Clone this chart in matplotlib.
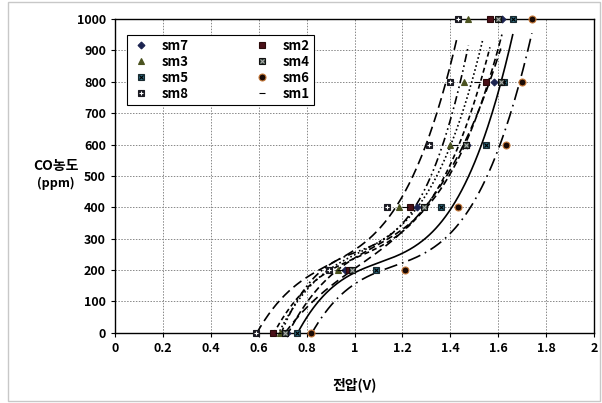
import numpy as np
import matplotlib
matplotlib.use('Agg')
import matplotlib.pyplot as plt
from matplotlib.patches import Rectangle

plt.rcParams['font.family'] = ['Noto Sans CJK KR', 'DejaVu Sans']

# CO concentration levels (ppm) and measured voltage (V) per sensor
ppm = [0, 200, 400, 600, 800, 1000]
sm7 = [0.72, 0.96, 1.26, 1.47, 1.58, 1.615]
sm2 = [0.66, 0.975, 1.23, 1.465, 1.55, 1.565]
sm3 = [0.69, 0.93, 1.185, 1.40, 1.455, 1.475]
sm4 = [0.71, 0.99, 1.29, 1.465, 1.61, 1.60]
sm5 = [0.76, 1.09, 1.36, 1.55, 1.625, 1.66]
sm6 = [0.82, 1.21, 1.43, 1.63, 1.70, 1.74]
sm8 = [0.59, 0.895, 1.135, 1.31, 1.40, 1.43]
sm1 = [0.68, 0.94, 1.21, 1.42, 1.51, 1.535]

x_ticks = [0, 0.2, 0.4, 0.6, 0.8, 1, 1.2, 1.4, 1.6, 1.8, 2]
y_ticks = [0, 100, 200, 300, 400, 500, 600, 700, 800, 900, 1000]

fig = plt.figure(figsize=(6.02, 4.03), dpi=100)
ax = fig.add_axes([0.191, 0.174, 0.796, 0.779])

# (name, data, marker, face, edge, size, overlay marker, trend line style)
series = [
    ('sm7', sm7, 'D', '#1c2450', '#1c2450', 3.5, None, (0, (4, 2))),
    ('sm3', sm3, '^', '#4b5320', '#4b5320', 4.5, None, (0, (5, 2, 1, 2, 1, 2))),
    ('sm5', sm5, 's', '#2e6b80', '#1a2a30', 5, ('x', 'black'), '-'),
    ('sm8', sm8, 's', '#1a1a22', '#1a1a22', 5, ('+', 'white'), (0, (6, 3))),
    ('sm2', sm2, 's', '#4a1018', '#2a0a0a', 5, None, (0, (3, 2))),
    ('sm4', sm4, 's', '#2a3a30', '#101010', 5, ('x', '#aaaaaa'), (0, (5, 3))),
    ('sm6', sm6, 'o', '#1a0a05', '#c87a3a', 5, None, (0, (8, 3, 1, 3))),
    ('sm1', sm1, '_', 'black', 'black', 4.5, None, (0, (1, 1.5))),
]

handles = []
for name, xs, mk, fc, ec, ms, over, ls in series:
    xs = np.array(xs)
    coef = np.polyfit(xs, ppm, 3)
    xx = np.linspace(xs.min(), xs.max(), 200)
    ax.plot(xx, np.polyval(coef, xx), color='black', linestyle=ls,
            linewidth=1.2, zorder=2)
    h = ax.plot(xs, ppm, linestyle='none', marker=mk, markersize=ms,
                markerfacecolor=fc, markeredgecolor=ec, markeredgewidth=0.8,
                color=ec, zorder=4, clip_on=False)[0]
    if over is not None:
        h2 = ax.plot(xs, ppm, linestyle='none', marker=over[0],
                     markersize=ms - 2, color=over[1], markeredgewidth=0.8,
                     zorder=5, clip_on=False)[0]
        handles.append((h, h2))
    else:
        handles.append(h)

ax.set_xlim(0, 2)
ax.set_ylim(0, 1000)
ax.set_xticks(x_ticks)
ax.set_xticklabels([f'{v:g}' for v in x_ticks])
ax.set_yticks(y_ticks)
ax.tick_params(axis='both', labelsize=9, length=3, direction='out', width=0.8)
for lab in ax.get_xticklabels() + ax.get_yticklabels():
    lab.set_fontweight('bold')
ax.grid(True, linestyle=(0, (1.5, 1.5)), color='#888888', linewidth=0.7)
ax.set_axisbelow(True)
for s in ax.spines.values():
    s.set_linewidth(1.0)

ax.set_xlabel('전압(V)', fontsize=10, fontweight='bold', labelpad=16)
fig.text(0.093, 0.588, 'CO농도', fontsize=10, fontweight='bold',
         ha='center', va='center')
fig.text(0.093, 0.545, '(ppm)', fontsize=9, fontweight='bold',
         ha='center', va='center')

leg = ax.legend(handles, [s[0] for s in series], ncol=2, loc='upper left',
                bbox_to_anchor=(0.012, 0.97), fontsize=9.5, frameon=True,
                fancybox=False, edgecolor='black', framealpha=1,
                columnspacing=4.8, handletextpad=0.8, labelspacing=0.15,
                borderpad=0.3, handlelength=1.5)
leg.get_frame().set_linewidth(0.8)
for t in leg.get_texts():
    t.set_fontweight('bold')

fig.patches.append(Rectangle((0.013, 0.005), 0.984, 0.99,
                             transform=fig.transFigure, fill=False,
                             edgecolor='#c8c8c8', linewidth=1.0))

fig.savefig('out.png', dpi=100)
